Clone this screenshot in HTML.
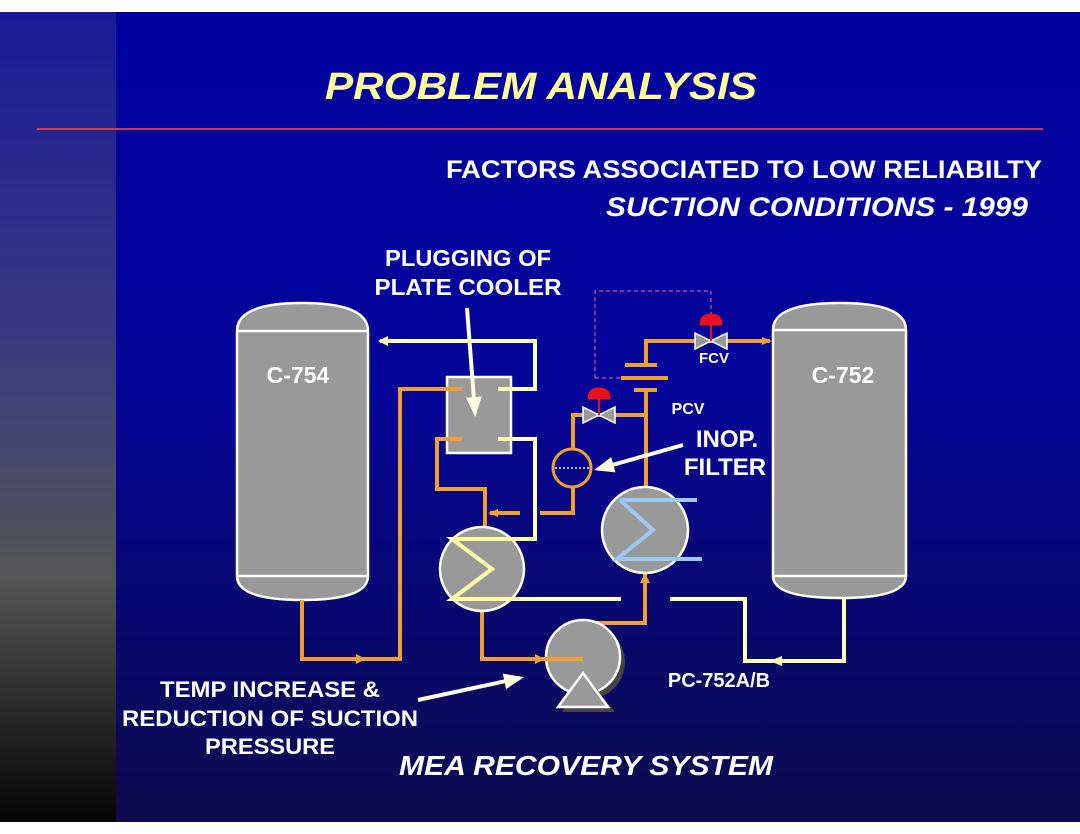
<!DOCTYPE html>
<html><head><meta charset="utf-8"><style>
html,body{margin:0;padding:0;background:#fff;}
svg{display:block;}
text{font-family:"Liberation Sans",Arial,sans-serif;font-weight:bold;}
</style></head><body>
<svg width="1080" height="834" viewBox="0 0 1080 834" xmlns="http://www.w3.org/2000/svg">
<defs>
<linearGradient id="bg" x1="0" y1="0" x2="0" y2="1">
<stop offset="0" stop-color="#0202a0"/><stop offset="0.45" stop-color="#05059a"/><stop offset="1" stop-color="#0b0b4c"/>
</linearGradient>
<linearGradient id="lf" x1="0" y1="0" x2="0" y2="1">
<stop offset="0" stop-color="#1a1a96"/><stop offset="0.4" stop-color="#3a3a80"/><stop offset="0.7" stop-color="#555"/><stop offset="1" stop-color="#050505"/>
</linearGradient>
<marker id="ay" markerWidth="10" markerHeight="10" refX="8" refY="5" orient="auto" markerUnits="userSpaceOnUse"><path d="M0,0 L10,5 L0,10 Z" fill="#ffffb0"/></marker>
<marker id="ao" markerWidth="10" markerHeight="10" refX="8" refY="5" orient="auto" markerUnits="userSpaceOnUse"><path d="M0,1 L10,5 L0,9 Z" fill="#f0a030"/></marker>
<marker id="aw" markerWidth="20" markerHeight="16" refX="16" refY="8" orient="auto" markerUnits="userSpaceOnUse"><path d="M0,0 L20,8 L0,16 Z" fill="#ffffe0"/></marker>
</defs>
<rect x="0" y="12" width="1080" height="810" fill="url(#bg)"/>
<rect x="0" y="12" width="116" height="810" fill="url(#lf)"/>
<line x1="37" y1="129" x2="1043" y2="129" stroke="#c83a5a" stroke-width="2"/>

<text x="541" y="99" font-size="38" font-style="italic" fill="#ffff99" text-anchor="middle" textLength="432" lengthAdjust="spacingAndGlyphs">PROBLEM ANALYSIS</text>
<text x="1042" y="178" font-size="25" fill="#fff" text-anchor="end" textLength="596" lengthAdjust="spacingAndGlyphs">FACTORS ASSOCIATED TO LOW RELIABILTY</text>
<text x="1028" y="216" font-size="27" font-style="italic" fill="#fff" text-anchor="end" textLength="422" lengthAdjust="spacingAndGlyphs">SUCTION CONDITIONS - 1999</text>

<g fill="#999" stroke="#fff" stroke-width="2.5">
<path d="M237,331 Q237,303 302,303 Q368,303 368,331 L368,576 Q368,600 302,600 Q237,600 237,576 Z"/>
<path d="M773,330 Q773,303 840,303 Q906,303 906,330 L906,576 Q906,598 840,598 Q773,598 773,576 Z"/>
</g>
<line x1="237" y1="331" x2="368" y2="331" stroke="#fff" stroke-width="2.5"/>
<line x1="237" y1="576" x2="368" y2="576" stroke="#fff" stroke-width="2.5"/>
<line x1="773" y1="330" x2="906" y2="330" stroke="#fff" stroke-width="2.5"/>
<line x1="773" y1="576" x2="906" y2="576" stroke="#fff" stroke-width="2.5"/>
<text x="298" y="383" font-size="23" fill="#fff" text-anchor="middle">C-754</text>
<text x="843" y="383" font-size="23" fill="#fff" text-anchor="middle">C-752</text>

<rect x="447" y="377" width="64" height="76" fill="#999" stroke="#fff" stroke-width="2.5"/>

<path d="M595,378 L595,291 L711,291 L711,315" fill="none" stroke="#b04090" stroke-width="1.5" stroke-dasharray="4,3"/>
<path d="M595,378 L621,378" fill="none" stroke="#b04090" stroke-width="1.5" stroke-dasharray="4,3"/>

<g fill="none" stroke="#ffffb0" stroke-width="4">
<path d="M498,389 L535,389 L535,341 L380,341" marker-end="url(#ay)"/>
<path d="M498,439 L535,439 L535,539 L452,539 L492,569 L452,599 L621,599"/>
<path d="M670,599 L745,599 L745,661 L844,661 L844,598"/>
</g>
<path d="M770,661 L782,656 L782,666 Z" fill="#ffffb0"/>

<g fill="none" stroke="#f0a030" stroke-width="4">
<path d="M302,600 L302,659 L400,659 L400,389 L462,389"/>
<path d="M462,439 L437,439 L437,489 L485,489 L485,528"/>
<path d="M520,513 L490,513" marker-end="url(#ao)"/>
<path d="M540,513 L573,513 L573,487"/>
<path d="M573,449 L573,415 L646,415"/>
<path d="M646,390 L646,488"/>
<path d="M646,365 L646,341 L770,341" marker-end="url(#ao)"/>
<path d="M482,611 L482,659 L583,659"/>
<path d="M645,573 L645,623 L584,623 L584,622"/>
</g>
<path d="M545,659 L535,654 L535,664 Z" fill="#f0a030"/>
<path d="M366,659 L356,654 L356,664 Z" fill="#f0a030"/>
<path d="M645,573 L640,583 L650,583 Z" fill="#f0a030"/>
<g stroke="#f0a030" stroke-width="4">
<line x1="625" y1="365" x2="657" y2="365"/>
<line x1="621" y1="378" x2="668" y2="378"/>
<line x1="634" y1="390" x2="657" y2="390"/>
</g>

<circle cx="572" cy="468" r="19" fill="none" stroke="#f0a030" stroke-width="3"/>
<line x1="555" y1="468" x2="590" y2="468" stroke="#fff" stroke-width="1.5" stroke-dasharray="2,2"/>

<g stroke="#fff" stroke-width="1.5" fill="#999">
<path d="M583,407 L599,415 L583,423 Z"/><path d="M615,407 L599,415 L615,423 Z"/>
<path d="M695,333 L711,341 L695,349 Z"/><path d="M727,333 L711,341 L727,349 Z"/>
</g>
<g fill="#e8101a" stroke="#e8101a">
<line x1="599" y1="398" x2="599" y2="415" stroke-width="2"/>
<path d="M588,399 Q588,388 599,388 Q610,388 610,399 Z"/>
<line x1="711" y1="324" x2="711" y2="341" stroke-width="2"/>
<path d="M700,325 Q700,314 711,314 Q722,314 722,325 Z"/>
</g>

<circle cx="482" cy="569" r="42" fill="#999" stroke="#fff" stroke-width="2.5"/>
<path d="M452,539 L533,539 M452,539 L492,569 L452,599 L533,599" fill="none" stroke="#ffffa0" stroke-width="4"/>
<circle cx="645" cy="530" r="43" fill="#999" stroke="#fff" stroke-width="2.5"/>
<path d="M620,500 L697,500 M620,500 L653,530 L617,559 L702,559" fill="none" stroke="#9cc8f4" stroke-width="4"/>

<circle cx="588" cy="662" r="37" fill="#444"/>
<circle cx="583" cy="657" r="37" fill="#999" stroke="#fff" stroke-width="2.5"/>
<path d="M588,678 L615,712 L562,712 Z" fill="#444"/>
<path d="M583,673 L608,707 L558,707 Z" fill="#999" stroke="#fff" stroke-width="2.5"/>
<path d="M545,659 L583,659" stroke="#f0a030" stroke-width="4"/>

<line x1="467" y1="308" x2="475" y2="413" stroke="#ffffe0" stroke-width="4" marker-end="url(#aw)"/>
<line x1="683" y1="445" x2="598" y2="469" stroke="#ffffe0" stroke-width="4" marker-end="url(#aw)"/>
<line x1="418" y1="700" x2="520" y2="678" stroke="#ffffe0" stroke-width="4" marker-end="url(#aw)"/>

<g fill="#fff" text-anchor="middle">
<text x="468" y="266" font-size="23" textLength="166" lengthAdjust="spacingAndGlyphs">PLUGGING OF</text>
<text x="468" y="295" font-size="23" textLength="187" lengthAdjust="spacingAndGlyphs">PLATE COOLER</text>
<text x="727" y="447" font-size="24">INOP.</text>
<text x="725" y="475" font-size="24">FILTER</text>
<text x="688" y="414" font-size="16">PCV</text>
<text x="714" y="363" font-size="15">FCV</text>
<text x="719" y="687" font-size="20">PC-752A/B</text>
<text x="270" y="697" font-size="22" textLength="220" lengthAdjust="spacingAndGlyphs">TEMP INCREASE &amp;</text>
<text x="270" y="726" font-size="22" textLength="296" lengthAdjust="spacingAndGlyphs">REDUCTION OF SUCTION</text>
<text x="270" y="754" font-size="22" textLength="130" lengthAdjust="spacingAndGlyphs">PRESSURE</text>
<text x="586" y="775" font-size="28" font-style="italic" textLength="374" lengthAdjust="spacingAndGlyphs">MEA RECOVERY SYSTEM</text>
</g>
</svg>
</body></html>
